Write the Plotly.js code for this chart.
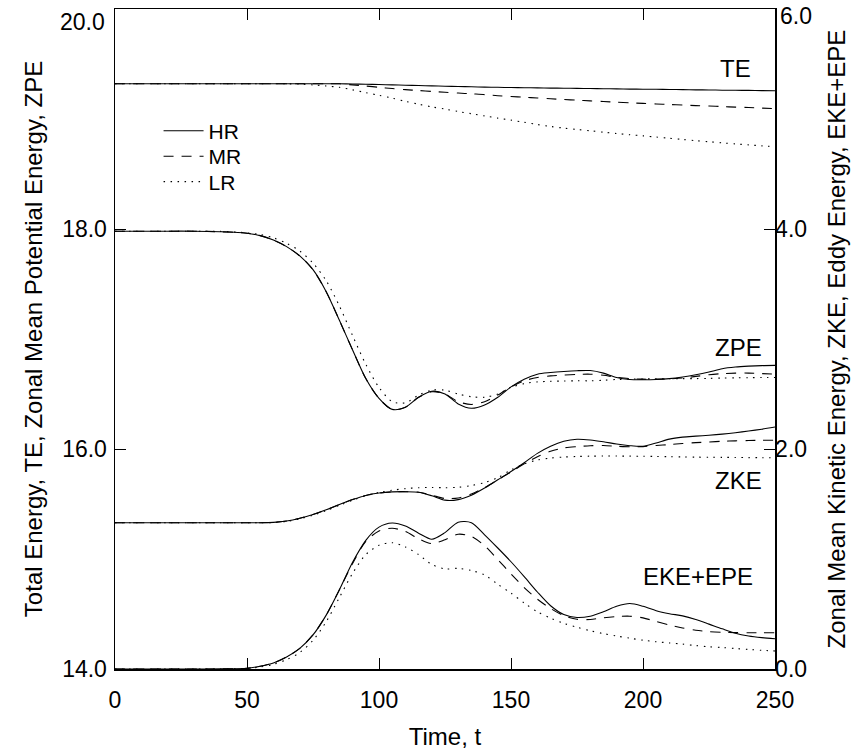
<!DOCTYPE html>
<html><head><meta charset="utf-8">
<script src="https://cdn.plot.ly/plotly-3.0.1.min.js"></script>
<style>html,body{margin:0;padding:0;background:#fff}</style>
</head><body>
<div id="chart" style="width:862px;height:755px"></div>
<script>
const time = [0,10,20,30,40,50,55,60,65,70,75,80,85,90,95,100,105,110,115,120,125,130,135,140,145,150,155,160,165,170,175,180,185,190,195,200,205,210,215,220,225,230,235,240,245,250];

const teHR = [19.32,19.32,19.32,19.32,19.32,19.32,19.32,19.32,19.32,19.32,19.32,19.32,19.32,19.318,19.316,19.313,19.31,19.307,19.304,19.301,19.298,19.295,19.293,19.29,19.288,19.286,19.284,19.283,19.281,19.28,19.278,19.277,19.275,19.274,19.272,19.271,19.27,19.268,19.267,19.265,19.264,19.262,19.261,19.26,19.258,19.257];
const teMR = [19.32,19.32,19.32,19.32,19.32,19.32,19.32,19.32,19.32,19.32,19.32,19.32,19.32,19.31,19.30,19.288,19.277,19.267,19.259,19.251,19.243,19.236,19.229,19.222,19.212,19.205,19.198,19.191,19.184,19.177,19.171,19.165,19.159,19.153,19.147,19.142,19.137,19.132,19.127,19.122,19.118,19.113,19.108,19.104,19.099,19.095];
const teLR = [19.32,19.32,19.32,19.32,19.32,19.32,19.32,19.32,19.32,19.318,19.31,19.30,19.288,19.265,19.24,19.215,19.19,19.16,19.135,19.11,19.09,19.068,19.048,19.028,19.008,18.99,18.97,18.95,18.932,18.917,18.905,18.893,18.88,18.868,18.857,18.847,18.836,18.825,18.814,18.803,18.793,18.783,18.774,18.765,18.756,18.748];

const zpeHR = [17.98,17.98,17.98,17.98,17.975,17.962,17.94,17.90,17.84,17.755,17.63,17.43,17.17,16.90,16.64,16.46,16.36,16.38,16.47,16.525,16.50,16.41,16.37,16.40,16.47,16.565,16.635,16.68,16.695,16.705,16.712,16.713,16.69,16.65,16.632,16.63,16.632,16.64,16.655,16.675,16.70,16.73,16.745,16.753,16.758,16.76];
const zpeMR = [17.98,17.98,17.98,17.98,17.975,17.962,17.94,17.90,17.84,17.755,17.63,17.43,17.17,16.90,16.64,16.46,16.36,16.38,16.47,16.52,16.50,16.43,16.405,16.43,16.49,16.565,16.62,16.65,16.665,16.672,16.678,16.68,16.67,16.652,16.64,16.635,16.635,16.638,16.645,16.66,16.675,16.685,16.69,16.69,16.685,16.68];
const zpeLR = [17.98,17.98,17.98,17.98,17.978,17.965,17.95,17.92,17.87,17.80,17.69,17.53,17.30,17.03,16.77,16.56,16.43,16.42,16.49,16.535,16.535,16.50,16.475,16.47,16.50,16.56,16.595,16.61,16.615,16.618,16.62,16.62,16.625,16.632,16.635,16.637,16.638,16.64,16.64,16.64,16.642,16.645,16.647,16.648,16.65,16.65];

const zkeHR = [1.33,1.33,1.33,1.33,1.33,1.33,1.33,1.333,1.345,1.37,1.405,1.447,1.495,1.54,1.578,1.60,1.61,1.612,1.607,1.575,1.535,1.54,1.58,1.645,1.72,1.795,1.875,1.96,2.025,2.07,2.088,2.082,2.066,2.045,2.03,2.025,2.055,2.09,2.108,2.117,2.125,2.135,2.148,2.163,2.18,2.2];
const zkeMR = [1.33,1.33,1.33,1.33,1.33,1.33,1.33,1.333,1.345,1.37,1.405,1.447,1.495,1.54,1.578,1.60,1.61,1.612,1.607,1.58,1.55,1.555,1.59,1.65,1.72,1.79,1.865,1.93,1.98,2.01,2.022,2.03,2.032,2.025,2.02,2.022,2.032,2.04,2.05,2.058,2.064,2.07,2.074,2.077,2.079,2.08];
const zkeLR = [1.33,1.33,1.33,1.33,1.33,1.33,1.33,1.332,1.342,1.365,1.398,1.44,1.488,1.535,1.575,1.605,1.625,1.64,1.648,1.65,1.648,1.652,1.668,1.695,1.74,1.81,1.865,1.90,1.918,1.927,1.932,1.935,1.936,1.936,1.935,1.934,1.932,1.93,1.928,1.926,1.925,1.924,1.923,1.922,1.921,1.92];

const ekeHR = [0,0,0,0,0.001,0.006,0.025,0.055,0.11,0.188,0.31,0.49,0.72,0.97,1.17,1.29,1.327,1.30,1.235,1.18,1.24,1.335,1.33,1.22,1.10,0.975,0.84,0.70,0.575,0.495,0.468,0.48,0.52,0.57,0.595,0.57,0.53,0.503,0.483,0.45,0.408,0.365,0.325,0.30,0.285,0.275];
const ekeMR = [0,0,0,0,0.001,0.006,0.025,0.055,0.11,0.188,0.31,0.49,0.72,0.96,1.16,1.255,1.28,1.25,1.185,1.14,1.175,1.225,1.205,1.12,0.995,0.865,0.74,0.635,0.55,0.485,0.452,0.45,0.466,0.477,0.48,0.465,0.432,0.40,0.373,0.352,0.34,0.334,0.331,0.33,0.33,0.33];
const ekeLR = [0,0,0,0,0,0.004,0.018,0.042,0.085,0.15,0.26,0.43,0.65,0.87,1.04,1.125,1.148,1.11,1.04,0.95,0.91,0.915,0.895,0.855,0.77,0.69,0.60,0.52,0.462,0.415,0.38,0.348,0.322,0.30,0.28,0.262,0.248,0.237,0.226,0.213,0.202,0.195,0.186,0.178,0.17,0.164];

const runNames = ['HR','MR','LR'];
const xTicks = [0,50,100,150,200,250];
const yLeftTicks = [14,16,18,20];
const yLeftText = ['14.0','16.0','18.0',''];   // top label drawn as annotation below
const yRightTicks = [0,2,4,6];
const yRightText = ['0.0','2.0','4.0',''];

const FONT = "'Liberation Sans', Arial, Helvetica, sans-serif";
const dashes = ['solid', '10px,8px', '1.5px,5.5px'];
const legendIds = ['legend', 'legend2', 'legend3'];

const traces = [];
function add(y, run, axis, legend) {
  const tr = {
    x: time, y: y, name: runNames[run], yaxis: axis, mode: 'lines',
    line: {color: '#000', width: 1.1, dash: dashes[run], shape: 'spline', smoothing: 0.8},
    showlegend: legend, hoverinfo: 'skip'
  };
  if (legend) tr.legend = legendIds[run];
  traces.push(tr);
}
[teHR, teMR, teLR].forEach((s, i) => add(s, i, 'y', true));
[zpeHR, zpeMR, zpeLR].forEach((s, i) => add(s, i, 'y', false));
[zkeHR, zkeMR, zkeLR].forEach((s, i) => add(s, i, 'y2', false));
[ekeHR, ekeMR, ekeLR].forEach((s, i) => add(s, i, 'y2', false));

const tickFont = {family: FONT, size: 23, color: '#000'};
const axisCommon = {
  showgrid: false, zeroline: false, showline: true, linecolor: '#000', linewidth: 1.5,
  ticks: 'inside', ticklen: 11, tickwidth: 1, tickcolor: '#000', ticklabeloverflow: 'allow',
  tickfont: tickFont
};

function legendBox(yPaper) {
  return {x: 0.066, y: yPaper, xanchor: 'left', yanchor: 'top', bgcolor: 'rgba(0,0,0,0)',
          itemwidth: 40, font: {family: FONT, size: 21, color: '#000'}};
}

const labelFont = {family: FONT, size: 24, color: '#000'};

const layout = {
  width: 862, height: 755,
  margin: {l: 115, r: 87, t: 9, b: 86},
  paper_bgcolor: '#fff', plot_bgcolor: '#fff',
  font: {family: FONT, color: '#000'},
  xaxis: Object.assign({}, axisCommon, {
    range: [0, 250], tickvals: xTicks, ticktext: xTicks.map(String), mirror: 'ticks',
    ticklabelstandoff: 10,
    title: {text: 'Time, t', font: {family: FONT, size: 24, color: '#000'}, standoff: 16}
  }),
  yaxis: Object.assign({}, axisCommon, {
    range: [14, 20], tickvals: yLeftTicks, ticktext: yLeftText, ticklabelstandoff: 2,
    title: {text: 'Total Energy, TE, Zonal Mean Potential Energy, ZPE', font: {family: FONT, size: 24, color: '#000'}, standoff: 12}
  }),
  yaxis2: Object.assign({}, axisCommon, {
    range: [0, 6], tickvals: yRightTicks, ticktext: yRightText, overlaying: 'y', side: 'right', ticklabelstandoff: -6,
    title: {text: 'Zonal Mean Kinetic Energy, ZKE, Eddy Energy, EKE+EPE', font: {family: FONT, size: 24, color: '#000'}, standoff: 22}
  }),
  showlegend: true,
  legend: legendBox(0.846),
  legend2: legendBox(0.8075),
  legend3: legendBox(0.769),
  annotations: [
    {text: 'TE', x: 241.5, y: 19.46, xref: 'x', yref: 'y', xanchor: 'right', yanchor: 'middle', showarrow: false, font: labelFont},
    {text: 'ZPE', x: 246, y: 16.92, xref: 'x', yref: 'y', xanchor: 'right', yanchor: 'middle', showarrow: false, font: labelFont},
    {text: 'ZKE', x: 246, y: 15.71, xref: 'x', yref: 'y', xanchor: 'right', yanchor: 'middle', showarrow: false, font: labelFont},
    {text: 'EKE+EPE', x: 242.5, y: 14.84, xref: 'x', yref: 'y', xanchor: 'right', yanchor: 'middle', showarrow: false, font: labelFont},
    {text: '20.0', x: 0, xref: 'paper', y: 20, yref: 'y', xanchor: 'right', yanchor: 'top', xshift: -8, yshift: 2, showarrow: false, font: tickFont},
    {text: '6.0', x: 1, xref: 'paper', y: 6, yref: 'y2', xanchor: 'left', yanchor: 'top', xshift: 3, yshift: 8, showarrow: false, font: tickFont}
  ]
};

Plotly.newPlot('chart', traces, layout, {displayModeBar: false, staticPlot: true});
</script>
</body></html>
